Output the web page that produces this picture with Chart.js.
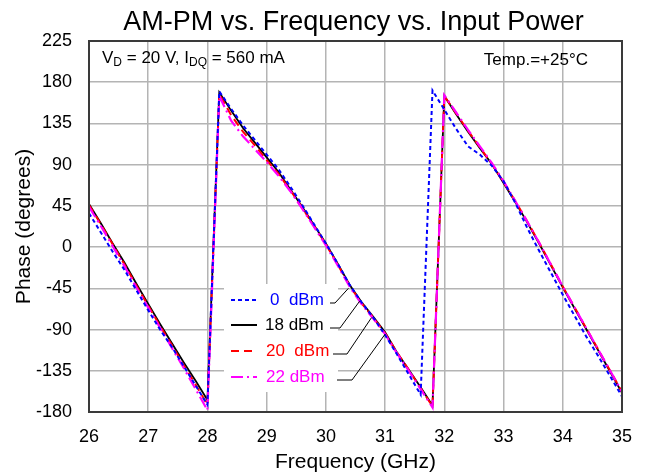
<!DOCTYPE html>
<html>
<head>
<meta charset="utf-8">
<script src="https://cdn.jsdelivr.net/npm/chart.js@4.4.0/dist/chart.umd.min.js"></script>
<style>
    html, body { margin: 0; padding: 0; background: #fff; }
</style>
</head>
<body>
<canvas id="myChart" width="647" height="476"></canvas>
<script>
// frequency grid (GHz)
const freqs = [26.0, 26.2, 26.4, 26.6, 26.8, 27.0, 27.2, 27.4, 27.6, 27.8,
               28.0, 28.2, 28.4, 28.6, 28.8, 29.0, 29.2, 29.4, 29.6, 29.8,
               30.0, 30.2, 30.4, 30.6, 30.8, 31.0, 31.2, 31.4, 31.6, 31.8,
               32.0, 32.2, 32.4, 32.6, 32.8, 33.0, 33.2, 33.4, 33.6, 33.8,
               34.0, 34.2, 34.4, 34.6, 34.8, 35.0];

// phase (degrees) per input power
const phase0dBm = [37, 16, -5, -25, -47, -69, -90, -109, -130, -151,
                   -172, 170, 151, 133, 117, 101, 85, 66, 46, 25,
                   4, -18, -41, -60, -77, -96, -117, -139, -161, 171,
                   150, 129, 110, 101, 89, 72, 48, 21, -4, -28,
                   -52, -75, -98, -119, -141, -163];
const phase18dBm = [47, 26, 4, -17, -40, -62, -84, -105, -126, -146,
                    -167, 169, 149, 130, 114, 98, 82, 63, 44, 24,
                    4, -18, -41, -60, -76, -93, -115, -134, -153, -173,
                    165, 145, 126, 108, 91, 70, 49, 27, 4, -20,
                    -44, -67, -90, -113, -136, -159];
const phase20dBm = [46, 25, 3, -19, -42, -64, -86, -107, -129, -150,
                    -172, 167, 144, 126, 111, 95, 80, 62, 43, 23,
                    3, -19, -42, -61, -77, -94, -115, -134, -154, -174,
                    165, 146, 127, 109, 91, 71, 50, 28, 5, -19,
                    -43, -66, -89, -112, -135, -158];
const phase22dBm = [44, 23, 1, -21, -44, -66, -88, -110, -132, -155,
                    -178, 165, 138, 121, 107, 93, 78, 61, 42, 22,
                    2, -20, -43, -62, -78, -95, -116, -135, -155, -175,
                    166, 147, 128, 110, 92, 72, 50, 28, 5, -19,
                    -43, -66, -89, -112, -135, -158];

const seriesLabels = ['0  dBm', '18 dBm', '20  dBm', '22 dBm'];
const xTicks = [26, 27, 28, 29, 30, 31, 32, 33, 34, 35];
const yTicks = [-180, -135, -90, -45, 0, 45, 90, 135, 180, 225];

const FONT = '"Liberation Sans", Arial, sans-serif';
Chart.defaults.font.family = FONT;
Chart.defaults.color = '#000';

function toPoints(values) {
    return values.map((v, i) => ({ x: freqs[i], y: v }));
}

function makeDataset(label, values, color, dash, width, order) {
    return {
        label: label,
        data: toPoints(values),
        borderColor: color,
        backgroundColor: color,
        borderDash: dash,
        borderWidth: width,
        pointRadius: 0,
        tension: 0,
        fill: false,
        order: order
    };
}

// frame, title and the text notes
const frame = {
    id: 'frame',
    afterDraw: (chart) => {
        const { ctx, chartArea: a } = chart;
        ctx.save();
        ctx.strokeStyle = '#3a3a3a';
        ctx.lineWidth = 2;
        ctx.strokeRect(a.left, a.top, a.right - a.left, a.bottom - a.top);

        ctx.fillStyle = '#000';
        ctx.textBaseline = 'alphabetic';
        ctx.textAlign = 'center';
        ctx.font = '27px ' + FONT;
        ctx.fillText('AM-PM vs. Frequency vs. Input Power', (a.left + a.right) / 2 - 2, 30);

        // V_D = 20 V, I_DQ = 560 mA
        const runs = [['V', 0], ['D', 1], [' = 20 V, I', 0], ['DQ', 1], [' = 560 mA', 0]];
        let x = a.left + 13;
        const y = a.top + 22;
        ctx.textAlign = 'left';
        runs.forEach(r => {
            ctx.font = (r[1] ? '12px ' : '17px ') + FONT;
            ctx.fillText(r[0], x, y + (r[1] ? 3 : 0));
            x += ctx.measureText(r[0]).width;
        });

        ctx.font = '17px ' + FONT;
        ctx.textAlign = 'right';
        ctx.fillText('Temp.=+25\u00B0C', a.right - 34, a.top + 24);
        ctx.restore();
    }
};

// legend inside the plot, with leader lines to the curves
const legendBox = {
    id: 'legendBox',
    afterDatasetsDraw: (chart) => {
        const { ctx, chartArea: a, scales: { x: xs, y: ys } } = chart;
        const left = a.left + 135;
        const top = a.top + 243;
        const rows = [259, 284, 310, 336];
        const textX = [181, 176, 177, 177];
        const leaderStart = [241, 241, 244, 248];
        const leaderBend = [246, 251, 258, 263];
        const targets = [[30.38, -45], [30.57, -59], [30.77, -77], [31.0, -95]];

        ctx.save();
        ctx.fillStyle = '#fff';
        ctx.fillRect(left, top, 114, 108);

        chart.data.datasets.forEach((ds, i) => {
            const ry = a.top + rows[i];
            ctx.strokeStyle = ds.borderColor;
            ctx.lineWidth = 2;
            ctx.setLineDash(ds.borderDash);
            ctx.beginPath();
            ctx.moveTo(a.left + 142, ry);
            ctx.lineTo(a.left + 168, ry);
            ctx.stroke();

            ctx.setLineDash([]);
            ctx.fillStyle = ds.borderColor;
            ctx.font = '17px ' + FONT;
            ctx.textAlign = 'left';
            ctx.textBaseline = 'middle';
            ctx.fillText(ds.label, a.left + textX[i], ry);

            ctx.strokeStyle = '#000';
            ctx.lineWidth = 1;
            ctx.beginPath();
            ctx.moveTo(a.left + leaderStart[i], ry + 3);
            ctx.lineTo(a.left + leaderBend[i], ry + 3);
            ctx.lineTo(xs.getPixelForValue(targets[i][0]), ys.getPixelForValue(targets[i][1]));
            ctx.stroke();
        });
        ctx.restore();
    }
};

const ctx = document.getElementById('myChart').getContext('2d');
const myChart = new Chart(ctx, {
    type: 'line',
    data: {
        datasets: [
            makeDataset(seriesLabels[0], phase0dBm, '#0000ff', [4, 3], 2, 0),
            makeDataset(seriesLabels[1], phase18dBm, '#000000', [], 1.8, 3),
            makeDataset(seriesLabels[2], phase20dBm, '#ff0000', [8, 5], 2, 2),
            makeDataset(seriesLabels[3], phase22dBm, '#ff00ff', [12, 4, 2, 4], 2.2, 1)
        ]
    },
    options: {
        responsive: false,
        animation: false,
        layout: { padding: { top: 41, right: 25, left: 0, bottom: 0 } },
        plugins: {
            legend: { display: false },
            tooltip: { enabled: false },
            title: { display: false }
        },
        scales: {
            x: {
                type: 'linear',
                min: 26,
                max: 35,
                afterBuildTicks: (scale) => { scale.ticks = xTicks.map(v => ({ value: v })); },
                afterFit: (scale) => { scale.height = 64; },
                ticks: { padding: 14, font: { size: 18 }, color: '#000' },
                grid: { color: '#b4b4b4', lineWidth: 1.5, drawTicks: false },
                border: { display: false },
                title: {
                    display: true,
                    text: 'Frequency (GHz)',
                    font: { size: 21 },
                    color: '#000',
                    padding: { top: 0, bottom: 1 }
                }
            },
            y: {
                type: 'linear',
                min: -180,
                max: 225,
                afterBuildTicks: (scale) => { scale.ticks = yTicks.map(v => ({ value: v })); },
                afterFit: (scale) => { scale.width = 89; },
                ticks: { padding: 17, font: { size: 18 }, color: '#000' },
                grid: { color: '#b4b4b4', lineWidth: 1.5, drawTicks: false },
                border: { display: false },
                title: {
                    display: true,
                    text: 'Phase (degrees)',
                    font: { size: 21 },
                    color: '#000',
                    padding: { top: 12, bottom: 0 }
                }
            }
        }
    },
    plugins: [frame, legendBox]
});
</script>
</body>
</html>
